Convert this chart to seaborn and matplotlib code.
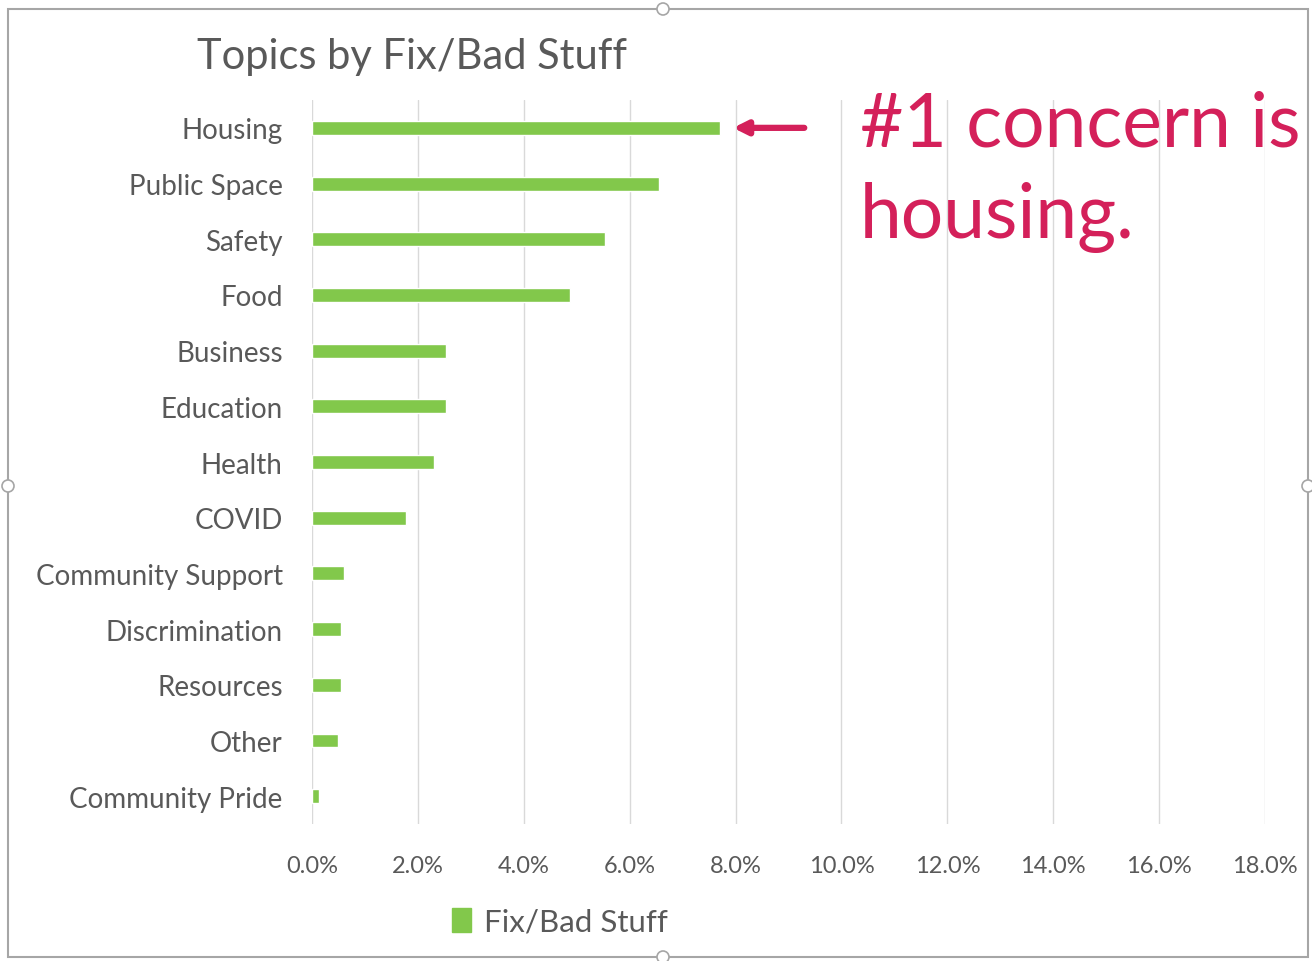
import pandas as pd
import matplotlib.pyplot as plt
import matplotlib.patches as mpatches
from matplotlib.ticker import PercentFormatter
import seaborn as sns

# data (share of responses, %)
topics = ['Housing', 'Public Space', 'Safety', 'Food', 'Business', 'Education',
          'Health', 'COVID', 'Community Support', 'Discrimination', 'Resources',
          'Other', 'Community Pride']
shares = [7.71, 6.56, 5.54, 4.88, 2.53, 2.53, 2.31, 1.78, 0.60, 0.55, 0.55, 0.49, 0.13]
series_name = 'Fix/Bad Stuff'
x_ticks = [0, 2, 4, 6, 8, 10, 12, 14, 16, 18]

df = pd.DataFrame({'topic': topics, 'share': shares})

sns.set_style('white')
plt.rcParams['font.family'] = ['Lato', 'DejaVu Sans']

green = '#82C84B'
grey_text = '#595959'
red = '#D4205A'

fig = plt.figure(figsize=(13.12, 9.62), dpi=100)
ax = fig.add_axes([0.2378, 0.1424, 0.7264, 0.7526])

sns.barplot(data=df, x='share', y='topic', color=green, width=0.25,
            saturation=1, ax=ax)

ax.set_xlim(0, 18)
ax.set_xticks(x_ticks)
ax.xaxis.set_major_formatter(PercentFormatter(decimals=1))
ax.grid(axis='x', color='#D9D9D9', linewidth=1)
ax.set_axisbelow(True)
for s in ax.spines.values():
    s.set_visible(False)
ax.set_xlabel('')
ax.set_ylabel('')
ax.tick_params(axis='y', length=0, pad=21, labelsize=20, labelcolor=grey_text)
ax.tick_params(axis='x', length=0, pad=22, labelsize=17, labelcolor=grey_text)

# title
fig.text(197 / 1312, 1 - 57 / 962, 'Topics by Fix/Bad Stuff', fontsize=30,
         color=grey_text, ha='left', va='center')

# legend
handle = mpatches.Patch(color=green, label=series_name)
fig.legend(handles=[handle], loc='center', bbox_to_anchor=(560 / 1312, 1 - 923 / 962),
           frameon=False, fontsize=22.5, labelcolor=grey_text, handlelength=0.6,
           handleheight=0.8, handletextpad=0.4)

# annotation arrow + text
ax.annotate('', xy=(7.9, 0), xytext=(9.35, 0),
            arrowprops=dict(arrowstyle='-|>,head_length=0.8,head_width=0.4',
                            color=red, lw=4.5))
fig.text(860 / 1312, 1 - 125 / 962, '#1 concern is', fontsize=54, color=red,
         ha='left', va='center')
fig.text(860 / 1312, 1 - 218 / 962, 'housing.', fontsize=54, color=red,
         ha='left', va='center')

# chart-area frame with selection handles
frame = mpatches.Rectangle((8 / 1312, 1 - 958 / 962), 1300 / 1312, 948 / 962,
                           transform=fig.transFigure, fill=False,
                           edgecolor='#A6A6A6', linewidth=1.5)
fig.patches.append(frame)
for hx, hy in [(663, 10), (8, 487), (663, 958), (1308, 487)]:
    fig.patches.append(mpatches.Ellipse((hx / 1312, 1 - hy / 962), 12 / 1312, 12 / 962,
                                        transform=fig.transFigure, facecolor='white',
                                        edgecolor='#A6A6A6', linewidth=1.2))

plt.savefig('out.png', dpi=100)
